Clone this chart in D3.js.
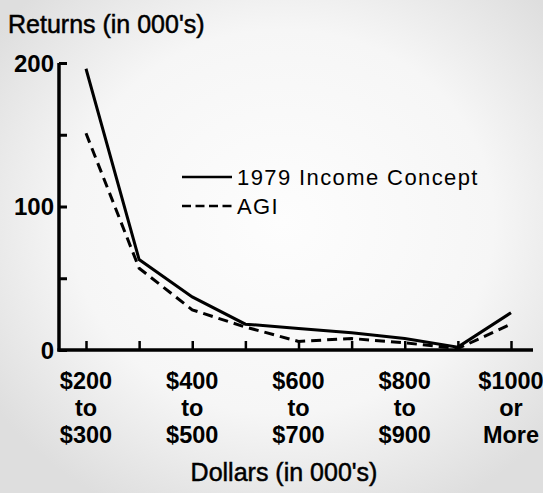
<!DOCTYPE html>
<html>
<head>
<meta charset="utf-8">
<script src="https://cdn.jsdelivr.net/npm/d3@7"></script>
<style>
  body { margin: 0; }
  svg { display: block; font-family: "Liberation Sans", Arial, sans-serif; }
</style>
</head>
<body>
<script>
const width = 543, height = 493;

// income brackets (one tick each), labels only on every other bracket
const brackets = ["200-300", "300-400", "400-500", "500-600", "600-700", "700-800", "800-900", "900-1000", "1000+"];
const bracketLabels = {
    "200-300": ["$200", "to", "$300"],
    "400-500": ["$400", "to", "$500"],
    "600-700": ["$600", "to", "$700"],
    "800-900": ["$800", "to", "$900"],
    "1000+": ["$1000", "or", "More"]
};
// returns, thousands
const incomeConcept = [196, 63, 37, 18, 15, 12, 8, 2, 26];
const agi = [151, 57, 28, 16, 6, 8, 5, 1, 18];
const yTicks = [0, 50, 100, 150, 200];
const yLabels = [0, 100, 200];

const svg = d3.select("body").append("svg")
    .attr("width", width)
    .attr("height", height);

// scanned paper look
const grad = svg.append("defs").append("radialGradient")
    .attr("id", "paper").attr("cx", "52%").attr("cy", "45%").attr("r", "65%");
grad.append("stop").attr("offset", "0%").attr("stop-color", "#fdfdfd");
grad.append("stop").attr("offset", "60%").attr("stop-color", "#f6f6f6");
grad.append("stop").attr("offset", "100%").attr("stop-color", "#dedede");
svg.append("rect").attr("width", width).attr("height", height).attr("fill", "url(#paper)");

const x = d3.scalePoint().domain(brackets).range([86, 511]);
const y = d3.scaleLinear().domain([0, 200]).range([350, 63]);

// axes
const yAxis = svg.append("g").attr("transform", "translate(59,0)")
    .call(d3.axisRight(y).tickValues(yTicks).tickSize(8).tickFormat(""));
yAxis.select(".domain").attr("d", "M0," + y(200) + "V" + (y(0) + 1.5));
yAxis.selectAll("line").attr("stroke-width", 3);
yAxis.select(".domain").attr("stroke-width", 3.5);

const xAxis = svg.append("g").attr("transform", "translate(0," + y(0) + ")")
    .call(d3.axisTop(x).tickSize(9).tickFormat(""));
xAxis.select(".domain").attr("d", "M57.5,0H533");
xAxis.select(".domain").attr("stroke-width", 3.5);
xAxis.selectAll("line").attr("stroke-width", 2.5);

svg.append("g").selectAll("text")
    .data(yLabels)
    .enter().append("text")
    .attr("x", 54)
    .attr("y", d => y(d))
    .attr("dy", "0.36em")
    .attr("text-anchor", "end")
    .attr("font-size", 24)
    .attr("font-weight", "bold")
    .text(d => d);

// x labels, three lines each
const xl = svg.append("g").selectAll("text")
    .data(brackets.filter(b => bracketLabels[b]))
    .enter().append("text")
    .attr("text-anchor", "middle")
    .attr("font-size", 23.5)
    .attr("font-weight", "bold");
xl.selectAll("tspan")
    .data(d => bracketLabels[d].map(t => ({b: d, t: t})))
    .enter().append("tspan")
    .attr("x", d => x(d.b))
    .attr("y", (d, i) => 389 + i * 27)
    .text(d => d.t);

// titles
svg.append("text")
    .attr("x", 8).attr("y", 33)
    .attr("font-size", 25)
    .attr("stroke", "#000").attr("stroke-width", 0.5)
    .text("Returns (in 000's)");
svg.append("text")
    .attr("x", 284).attr("y", 481)
    .attr("text-anchor", "middle")
    .attr("font-size", 25)
    .attr("stroke", "#000").attr("stroke-width", 0.5)
    .text("Dollars (in 000's)");

// lines
const line = d3.line()
    .x((d, i) => x(brackets[i]))
    .y(d => y(d));

svg.append("path")
    .datum(agi)
    .attr("d", line)
    .attr("fill", "none")
    .attr("stroke", "#000")
    .attr("stroke-width", 3)
    .attr("stroke-dasharray", "10,6");

svg.append("path")
    .datum(incomeConcept)
    .attr("d", line)
    .attr("fill", "none")
    .attr("stroke", "#000")
    .attr("stroke-width", 3);

// legend
const legend = svg.append("g");
legend.append("line")
    .attr("x1", 182).attr("x2", 232).attr("y1", 177).attr("y2", 177)
    .attr("stroke", "#000").attr("stroke-width", 2.5);
legend.append("line")
    .attr("x1", 182).attr("x2", 232).attr("y1", 206).attr("y2", 206)
    .attr("stroke", "#000").attr("stroke-width", 2.5)
    .attr("stroke-dasharray", "9,4.5");
legend.append("text")
    .attr("x", 237).attr("y", 185)
    .attr("font-size", 22)
    .attr("letter-spacing", 1.4)
    .text("1979 Income Concept");
legend.append("text")
    .attr("x", 237).attr("y", 214)
    .attr("font-size", 22)
    .attr("letter-spacing", 1.4)
    .text("AGI");
</script>
</body>
</html>
